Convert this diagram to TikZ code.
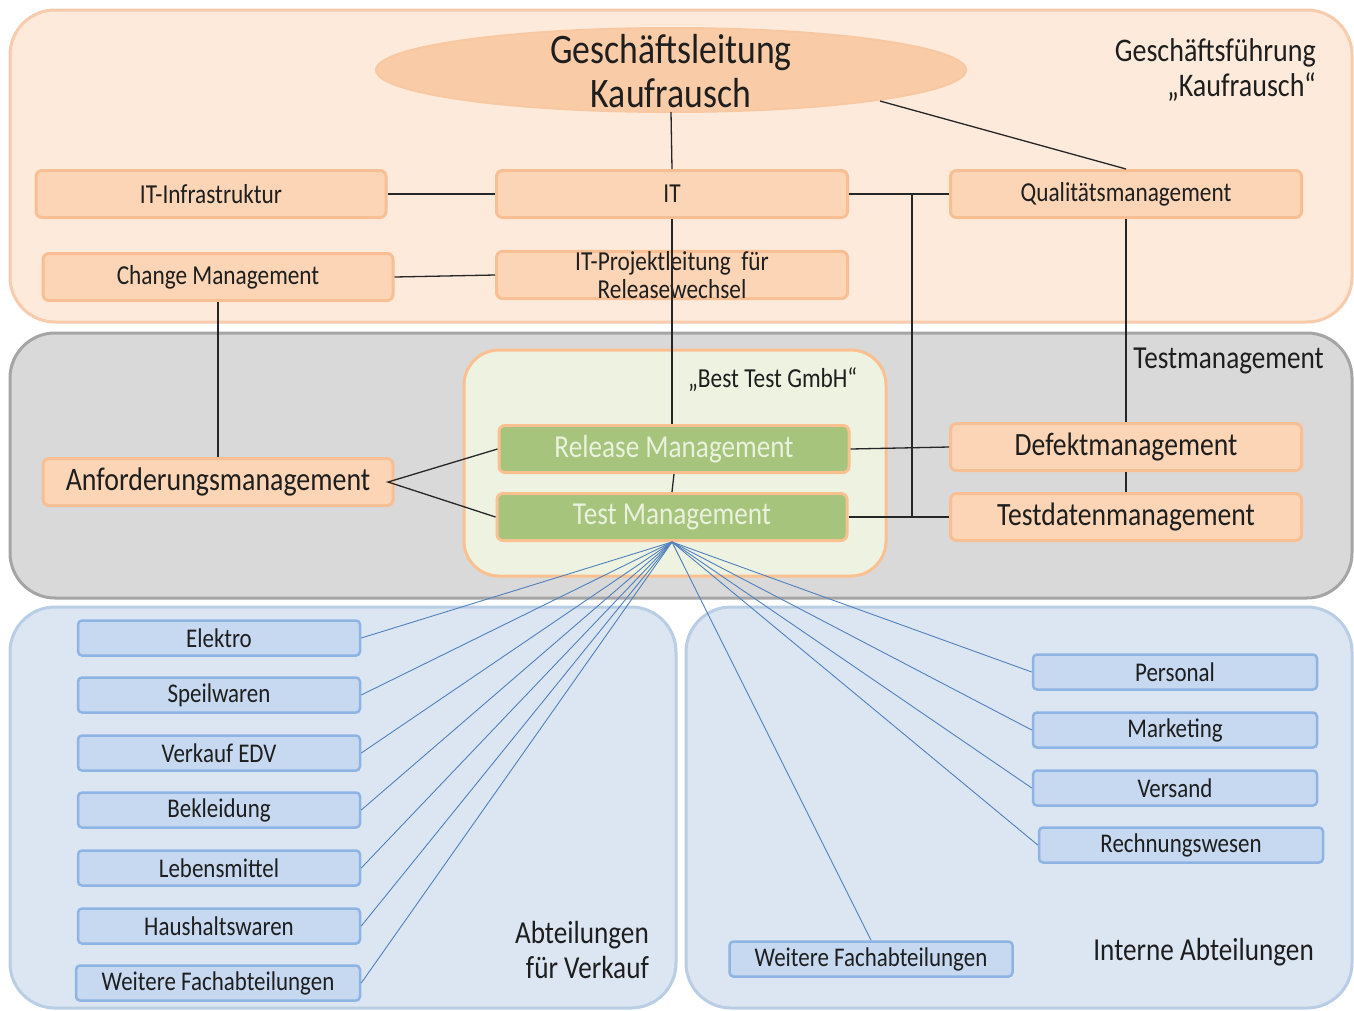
\documentclass[tikz,border=0pt]{standalone}
\usepackage{fontspec}
\setmainfont{Carlito}[FakeStretch=0.85]
\usetikzlibrary{shapes.geometric}
\definecolor{topfill}{HTML}{FDEADA}
\definecolor{topdraw}{HTML}{F8CBAD}
\definecolor{ellfill}{HTML}{F9CBA6}
\definecolor{elldraw}{HTML}{F6BE94}
\definecolor{ofill}{HTML}{FBD5B5}
\definecolor{odraw}{HTML}{F9BF94}
\definecolor{grayfill}{HTML}{D9D9D9}
\definecolor{graydraw}{HTML}{A5A5A5}
\definecolor{innerfill}{HTML}{EEF2E1}
\definecolor{innerdraw}{HTML}{FAC090}
\definecolor{gfill}{HTML}{A6C47C}
\definecolor{gtext}{HTML}{EAF1DD}
\definecolor{bpfill}{HTML}{DCE6F2}
\definecolor{bpdraw}{HTML}{B9CDE5}
\definecolor{bfill}{HTML}{C6D9F1}
\definecolor{bdraw}{HTML}{8EB4E3}
\definecolor{bline}{HTML}{4F81BD}
\definecolor{txt}{HTML}{1E1E1E}
\newcommand{\fs}[2]{\fontsize{#1}{#2}\selectfont}
\tikzset{
  panel/.style={line width=3pt, rounded corners=45pt},
  obox/.style={draw=odraw, fill=ofill, line width=3pt, rounded corners=6pt, text=txt, inner sep=0pt, align=center, minimum height=47pt},
  gbox/.style={draw=innerdraw, fill=gfill, line width=3pt, rounded corners=6pt, text=gtext, inner sep=0pt, minimum width=350pt, minimum height=47pt, font=\fs{32}{34}},
  bbox/.style={draw=bdraw, fill=bfill, line width=2.5pt, rounded corners=4pt, text=txt, inner sep=0pt, minimum width=282pt, minimum height=35pt, font=\fs{27}{29}},
  lbl/.style={text=txt, inner sep=0pt, align=right, font=\fs{32}{35}},
  conn/.style={draw=black!85, line width=1.3pt},
  bconn/.style={draw=bline, line width=0.9pt},
}
\begin{document}
\begin{tikzpicture}[x=1pt,y=-1pt]
\useasboundingbox[fill=white] (0,0) rectangle (1354,1010);
% panels
\draw[panel, draw=topdraw, fill=topfill] (10,10) rectangle (1352,322);
\draw[panel, draw=graydraw, fill=grayfill] (10,333) rectangle (1352,598);
\draw[panel, draw=bpdraw, fill=bpfill] (10,607) rectangle (676,1008);
\draw[panel, draw=bpdraw, fill=bpfill] (686,607) rectangle (1352,1008);
\draw[line width=3pt, rounded corners=35pt, draw=innerdraw, fill=innerfill] (464,350) rectangle (886,576);

% panel labels
\node[lbl, anchor=east, font=\fs{33}{35}] (gflbl) at (1316,70) {Geschäftsführung\\„Kaufrausch“};
\node[lbl, anchor=east] (tmlbl) at (1324,361) {Testmanagement};
\node[lbl, anchor=west, font=\fs{27.5}{29}] (btlbl) at (688,380) {„Best Test GmbH“};
\node[lbl, anchor=east] (avlbl) at (649,950) {Abteilungen\\für Verkauf};
\node[lbl, anchor=east] (ialbl) at (1314,952) {Interne Abteilungen};

% top
\node[ellipse, draw=ellfill!80!elldraw, fill=ellfill, line width=2pt, minimum width=590pt, minimum height=84pt, inner sep=0pt] (gl) at (671,70) {};
\node[text=txt, font=\fs{42}{44}, align=center, inner sep=0pt] (gltext) at (671,71) {Geschäftsleitung\\Kaufrausch};

\node[obox, minimum width=350pt, font=\fs{27.4}{28}] (infra) at (211,194) {IT-Infrastruktur};
\node[obox, minimum width=351pt, font=\fs{27.4}{28}] (it) at (672,194) {IT};
\node[obox, minimum width=351pt, font=\fs{27.4}{28}] (qm) at (1126,194) {Qualitätsmanagement};
\node[obox, minimum width=350pt, font=\fs{27.4}{28}] (cm) at (218,277) {Change Management};
\node[obox, minimum width=351pt, font=\fs{27.4}{28}] (itp) at (672,275) {IT-Projektleitung \ für\\Releasewechsel};

% middle
\node[obox, minimum width=350pt, font=\fs{32.8}{34}] (af) at (218,482) {Anforderungsmanagement};
\node[obox, minimum width=351pt, font=\fs{32.5}{34}] (dm) at (1126,447) {Defektmanagement};
\node[obox, minimum width=351pt, font=\fs{32.5}{34}] (td) at (1126,517) {Testdatenmanagement};
\node[gbox] (rm) at (674,449) {Release Management};
\node[gbox] (tm) at (672,517) {Test Management};

% bottom left
\node[bbox] (el) at (219,638) {Elektro};
\node[bbox] (sp) at (219,695) {Speilwaren};
\node[bbox] (ve) at (219,753) {Verkauf EDV};
\node[bbox] (be) at (219,810) {Bekleidung};
\node[bbox] (le) at (219,868) {Lebensmittel};
\node[bbox] (ha) at (219,926) {Haushaltswaren};
\node[bbox, minimum width=284pt] (wl) at (218,983) {Weitere Fachabteilungen};
% bottom right
\node[bbox, minimum width=284pt] (pe) at (1175,672) {Personal};
\node[bbox, minimum width=284pt] (ma) at (1175,730) {Marketing};
\node[bbox, minimum width=284pt] (vs) at (1175,788) {Versand};
\node[bbox, minimum width=284pt] (rw) at (1181,845) {Rechnungswesen};
\node[bbox, minimum width=283pt] (wr) at (871,959) {Weitere Fachabteilungen};

% black connectors
\coordinate (glb) at (671,112);
\coordinate (glr) at (880,101);
\coordinate (jx) at (912,194);
\coordinate (jy) at (912,517);
\draw[conn] (glb) -- (it.north);
\draw[conn] (glr) -- (qm.north);
\draw[conn] (infra.east) -- (it.west);
\draw[conn] (it.east) -- (qm.west);
\draw[conn] (jx) -- (jy);
\draw[conn] (tm.east) -- (td.west);
\draw[conn] (rm.east) -- (dm.west);
\draw[conn] (it.south) -- (it.south |- rm.north);
\draw[conn] (rm.south) -- (tm.north);
\draw[conn] (cm.east) -- (itp.west);
\draw[conn] (cm.south) -- (af.north);
\coordinate (afe) at (388,482);
\draw[conn] (rm.west) -- (afe) -- (tm.west);
\draw[conn] (qm.south) -- (dm.north);
\draw[conn] (dm.south) -- (td.north);

% blue connectors
\foreach \n in {el,sp,ve,be,le,ha,wl} \draw[bconn] (tm.south) -- (\n.east);
\foreach \n in {pe,ma,vs,rw} \draw[bconn] (tm.south) -- (\n.west);
\draw[bconn] (tm.south) -- (wr.north);
\end{tikzpicture}
\end{document}
